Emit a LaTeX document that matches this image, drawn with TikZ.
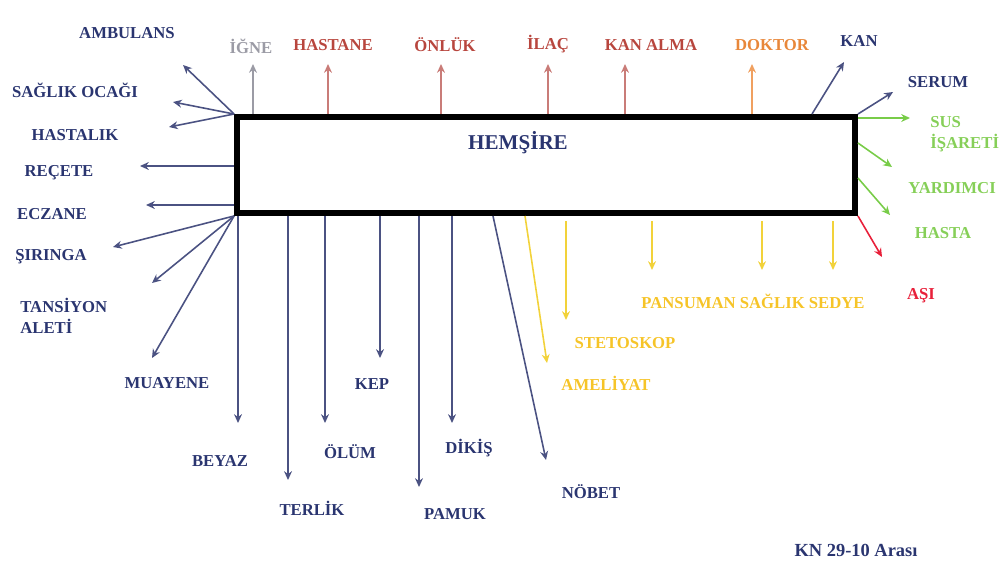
\documentclass[tikz,border=0pt]{standalone}
\usepackage{fontspec}
\setmainfont{Liberation Serif}
\usepackage{xcolor}
\usetikzlibrary{arrows.meta}

\definecolor{navyT}{HTML}{2A3570}
\definecolor{navyL}{HTML}{4B5282}
\definecolor{greyT}{HTML}{9B9BA5}
\definecolor{brickT}{HTML}{B8463E}
\definecolor{brickL}{HTML}{C97C78}
\definecolor{orangeT}{HTML}{E8873A}
\definecolor{orangeL}{HTML}{F0A060}
\definecolor{greenT}{HTML}{86CF58}
\definecolor{greenL}{HTML}{78CC48}
\definecolor{yellowT}{HTML}{F6C428}
\definecolor{yellowL}{HTML}{F2D23A}
\definecolor{redT}{HTML}{E8203A}

\begin{document}
\begin{tikzpicture}[x=0.02cm,y=-0.02cm,
  lbl/.style={font=\bfseries\fontsize{9.5}{12}\selectfont,inner sep=0pt,align=center},
  arr/.style={-{Stealth[length=5pt,width=4.5pt]},line width=0.9pt}]

  \useasboundingbox (0,0) rectangle (1006,581);

  \node[draw=black,line width=3.4pt,minimum width=12.36cm,
        minimum height=1.92cm,inner sep=0pt] (hem) at (546,165) {};
  \node[lbl,text=navyT,font=\bfseries\fontsize{12}{14}\selectfont] (hemt) at (518,143) {HEMŞİRE};

  % top
  \node[lbl,text=greyT]   (igne) at (251,46) {İĞNE};
  \node[lbl,text=brickT]  (hast) at (333,45) {HASTANE};
  \node[lbl,text=brickT]  (onl)  at (445,45) {ÖNLÜK};
  \node[lbl,text=brickT]  (ilac) at (548,44) {İLAÇ};
  \node[lbl,text=brickT]  (kana) at (651,45) {KAN ALMA};
  \node[lbl,text=orangeT] (dok)  at (772,45) {DOKTOR};
  \node[lbl,text=navyT]   (kan)  at (859,41) {KAN};
  \node[lbl,text=navyT]   (ser)  at (938,82) {SERUM};

  \coordinate (t-igne) at (253,64);
  \coordinate (t-hast) at (328,64);
  \coordinate (t-onl)  at (441,64);
  \coordinate (t-ilac) at (548,64);
  \coordinate (t-kana) at (625,64);
  \coordinate (t-dok)  at (752,64);
  \coordinate (s-kan)  at (812,117);
  \coordinate (t-kan)  at (844,62);
  \coordinate (t-ser)  at (893,92);

  \draw[arr,greyT]   (hem.north -| t-igne) -- (t-igne);
  \draw[arr,brickL]  (hem.north -| t-hast) -- (t-hast);
  \draw[arr,brickL]  (hem.north -| t-onl)  -- (t-onl);
  \draw[arr,brickL]  (hem.north -| t-ilac) -- (t-ilac);
  \draw[arr,brickL]  (hem.north -| t-kana) -- (t-kana);
  \draw[arr,orangeL] (hem.north -| t-dok)  -- (t-dok);
  \draw[arr,navyL]   (hem.north -| s-kan)  -- (t-kan);
  \draw[arr,navyL]   (hem.north east) -- (t-ser);

  % right
  \node[lbl,text=greenT,anchor=west,align=left] (sus) at (930,134) {SUS\\İŞARETİ};
  \node[lbl,text=greenT] (yard) at (952,188) {YARDIMCI};
  \node[lbl,text=greenT] (hsta) at (943,233) {HASTA};
  \node[lbl,text=redT]   (asi)  at (921,296) {AŞI};

  \coordinate (t-sus)  at (910,118);
  \coordinate (s-yard) at (857,143);
  \coordinate (t-yard) at (892,167);
  \coordinate (s-hsta) at (857,178);
  \coordinate (t-hsta) at (890,215);
  \coordinate (t-asi)  at (882,257);

  \draw[arr,greenL] (hem.east |- t-sus)  -- (t-sus);
  \draw[arr,greenL] (hem.east |- s-yard) -- (t-yard);
  \draw[arr,greenL] (hem.east |- s-hsta) -- (t-hsta);
  \draw[arr,redT]   (hem.south east) -- (t-asi);

  % bottom, yellow
  \node[lbl,text=yellowT] (pans) at (753,301) {PANSUMAN SAĞLIK SEDYE};
  \node[lbl,text=yellowT] (stet) at (625,343) {STETOSKOP};
  \node[lbl,text=yellowT] (amel) at (606,383) {AMELİYAT};

  \coordinate (s-amel) at (525,216);
  \coordinate (t-amel) at (547,363);
  \coordinate (t-stet) at (566,320);
  \coordinate (t-pan1) at (652,270);
  \coordinate (t-pan2) at (762,270);
  \coordinate (t-pan3) at (833,270);

  \draw[arr,yellowL] (s-amel) -- (t-amel);
  \draw[arr,yellowL,shorten <=3pt] (hem.south -| t-stet) -- (t-stet);
  \draw[arr,yellowL,shorten <=3pt] (hem.south -| t-pan1) -- (t-pan1);
  \draw[arr,yellowL,shorten <=3pt] (hem.south -| t-pan2) -- (t-pan2);
  \draw[arr,yellowL,shorten <=3pt] (hem.south -| t-pan3) -- (t-pan3);

  % bottom, navy
  \node[lbl,text=navyT] (bey) at (220,461) {BEYAZ};
  \node[lbl,text=navyT] (ter) at (312,508) {TERLİK};
  \node[lbl,text=navyT] (olm) at (350,452) {ÖLÜM};
  \node[lbl,text=navyT] (kep) at (372,384) {KEP};
  \node[lbl,text=navyT] (pam) at (455,514) {PAMUK};
  \node[lbl,text=navyT] (dik) at (469,448) {DİKİŞ};
  \node[lbl,text=navyT] (nob) at (591,492) {NÖBET};

  \coordinate (t-bey) at (238,423);
  \coordinate (t-ter) at (288,480);
  \coordinate (t-olm) at (325,423);
  \coordinate (t-kep) at (380,358);
  \coordinate (t-pam) at (419,487);
  \coordinate (t-dik) at (452,423);
  \coordinate (s-nob) at (493,216);
  \coordinate (t-nob) at (546,460);

  \draw[arr,navyL] (hem.south -| t-bey) -- (t-bey);
  \draw[arr,navyL] (hem.south -| t-ter) -- (t-ter);
  \draw[arr,navyL] (hem.south -| t-olm) -- (t-olm);
  \draw[arr,navyL] (hem.south -| t-kep) -- (t-kep);
  \draw[arr,navyL] (hem.south -| t-pam) -- (t-pam);
  \draw[arr,navyL] (hem.south -| t-dik) -- (t-dik);
  \draw[arr,navyL] (s-nob) -- (t-nob);

  % left
  \node[lbl,text=navyT] (amb) at (127,33)  {AMBULANS};
  \node[lbl,text=navyT] (soc) at (75,90)   {SAĞLIK OCAĞI};
  \node[lbl,text=navyT] (hlk) at (75,135)  {HASTALIK};
  \node[lbl,text=navyT] (rec) at (59,173)  {REÇETE};
  \node[lbl,text=navyT] (ecz) at (52,214)  {ECZANE};
  \node[lbl,text=navyT] (sir) at (51,257)  {ŞIRINGA};
  \node[lbl,text=navyT,anchor=west,align=left] (tan) at (20,316) {TANSİYON\\ALETİ};
  \node[lbl,text=navyT] (mua) at (167,383) {MUAYENE};

  \coordinate (t-amb) at (183,65);
  \coordinate (t-soc) at (173,102);
  \coordinate (t-hlk) at (169,127);
  \coordinate (t-rec) at (140,166);
  \coordinate (t-ecz) at (146,205);
  \coordinate (t-sir) at (113,247);
  \coordinate (t-tan) at (152,283);
  \coordinate (t-mua) at (152,358);

  \draw[arr,navyL] (hem.north west) -- (t-amb);
  \draw[arr,navyL] (hem.north west) -- (t-soc);
  \draw[arr,navyL] (hem.north west) -- (t-hlk);
  \draw[arr,navyL] (hem.west |- t-rec) -- (t-rec);
  \draw[arr,navyL] (hem.west |- t-ecz) -- (t-ecz);
  \draw[arr,navyL] (hem.south west) -- (t-sir);
  \draw[arr,navyL] (hem.south west) -- (t-tan);
  \draw[arr,navyL] (hem.south west) -- (t-mua);

  \node[lbl,text=navyT,font=\bfseries\fontsize{10.5}{12}\selectfont] (src) at (856,550) {KN 29-10 Arası};

\end{tikzpicture}
\end{document}
